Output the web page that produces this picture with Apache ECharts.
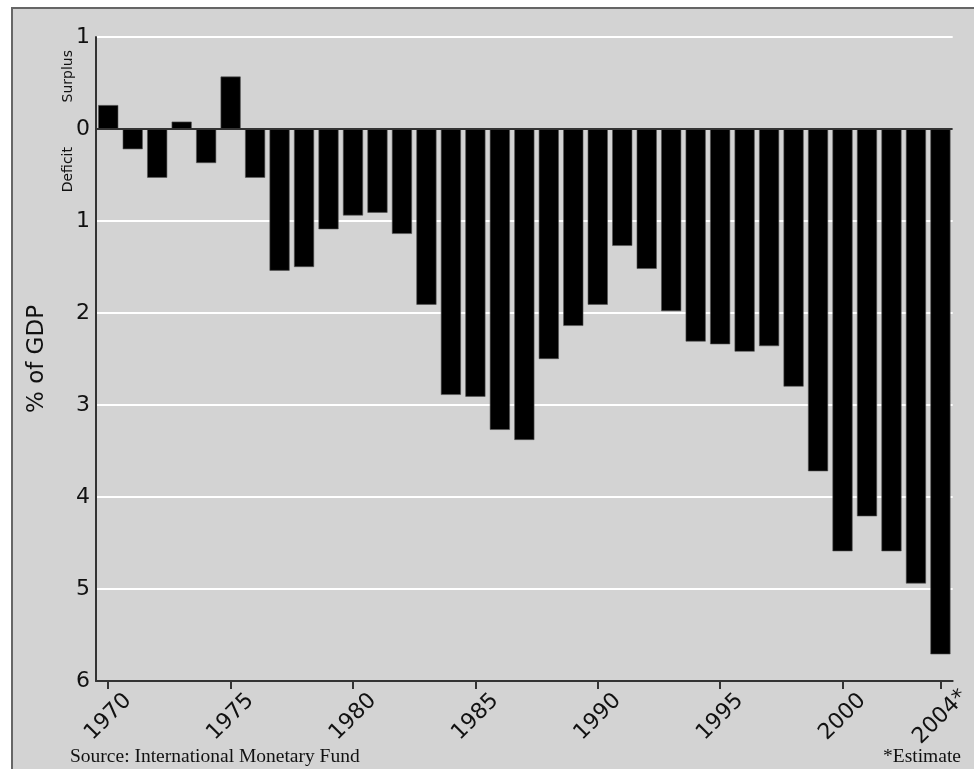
<!DOCTYPE html>
<html>
<head>
<meta charset="utf-8">
<script src="https://cdn.jsdelivr.net/npm/echarts@6/dist/echarts.min.js"></script>
<style>
html,body{margin:0;padding:0;background:#fff;}
#chart{width:974px;height:769px;}
</style>
</head>
<body>
<div id="chart"></div>
<script>
const years = ['1970','1971','1972','1973','1974','1975','1976','1977','1978','1979',
  '1980','1981','1982','1983','1984','1985','1986','1987','1988','1989',
  '1990','1991','1992','1993','1994','1995','1996','1997','1998','1999',
  '2000','2001','2002','2003','2004*'];
const balance = [0.26,-0.22,-0.53,0.08,-0.37,0.57,-0.53,-1.54,-1.50,-1.09,
  -0.94,-0.91,-1.14,-1.91,-2.89,-2.91,-3.27,-3.38,-2.50,-2.14,
  -1.91,-1.27,-1.52,-1.98,-2.31,-2.34,-2.42,-2.36,-2.80,-3.72,
  -4.59,-4.21,-4.59,-4.94,-5.71];
const shownYears = ['1970','1975','1980','1985','1990','1995','2000','2004*'];
const yAxisName = '% of GDP';
const sourceText = 'Source: International Monetary Fund';
const noteText = '*Estimate';

const chart = echarts.init(document.getElementById('chart'), null, {renderer:'canvas'});
const showIdx = (i) => shownYears.indexOf(years[i]) >= 0;
chart.setOption({
  animation: false,
  backgroundColor: '#ffffff',
  graphic: [
    {type:'rect', z:-10, shape:{x:12, y:8, width:980, height:790},
     style:{fill:'#d3d3d3', stroke:'#666', lineWidth:2}},
    {type:'text', left:61, top:50, rotation:Math.PI/2, z:10,
     style:{text:'Surplus', fontFamily:'DejaVu Sans', fontSize:14, fill:'#111'}},
    {type:'text', left:61, top:147, rotation:Math.PI/2, z:10,
     style:{text:'Deficit', fontFamily:'DejaVu Sans', fontSize:14, fill:'#111'}},
    {type:'text', left:70, top:747, z:10,
     style:{text:sourceText, fontFamily:'Liberation Serif', fontSize:19.5, fill:'#111'}},
    {type:'text', left:883, top:747, z:10,
     style:{text:noteText, fontFamily:'Liberation Serif', fontSize:19.5, fill:'#111'}}
  ],
  grid: {left:96, right:20, top:37, bottom:88, containLabel:false},
  xAxis: {
    type:'category', data:years,
    axisLine:{show:true, onZero:false, lineStyle:{color:'#333', width:2}},
    axisTick:{show:true, alignWithLabel:true, length:8, interval:(i)=>showIdx(i), lineStyle:{color:'#333', width:2}},
    axisLabel:{interval:(i)=>showIdx(i), rotate:45, margin:36, align:'center', verticalAlign:'middle',
      fontFamily:'DejaVu Sans', fontSize:22, color:'#111'},
    splitLine:{show:false}
  },
  yAxis: {
    type:'value', min:-6, max:1, interval:1,
    name: yAxisName, nameLocation:'middle', nameGap:47, nameRotate:90,
    nameTextStyle:{fontFamily:'DejaVu Sans', fontSize:23, color:'#111'},
    axisLine:{show:true, lineStyle:{color:'#333', width:2}},
    axisTick:{show:false},
    axisLabel:{formatter:(v)=>String(Math.abs(v)), margin:6, fontFamily:'DejaVu Sans', fontSize:22, color:'#111'},
    splitLine:{show:true, lineStyle:{color:'#ffffff', width:2}}
  },
  series: [{
    type:'bar', data:balance, barCategoryGap:'18%',
    itemStyle:{color:'#000', borderColor:'#555', borderWidth:0.6},
    markLine:{silent:true, symbol:'none', label:{show:false},
      lineStyle:{color:'#333', width:2, type:'solid'},
      data:[{yAxis:0}]}
  }]
});
</script>
</body>
</html>
